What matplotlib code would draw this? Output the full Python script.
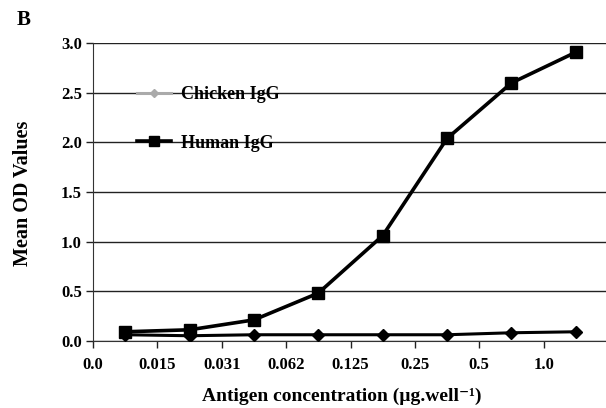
import matplotlib.pyplot as plt
import numpy as np
from matplotlib.lines import Line2D

# Данные
conc_labels = ['0.0', '0.015', '0.031', '0.062', '0.125', '0.25', '0.5', '1.0']
human_igg = [0.09, 0.11, 0.21, 0.48, 1.06, 2.04, 2.60, 2.91]
chicken_igg = [0.06, 0.05, 0.06, 0.06, 0.06, 0.06, 0.08, 0.09]

plt.rcParams['font.family'] = ['Liberation Serif', 'DejaVu Serif']
plt.rcParams['font.weight'] = 'bold'

fig = plt.figure(figsize=(6.06, 4.08), dpi=100)
W, H = 606, 408
ax = fig.add_axes([93 / W, (H - 340.7) / H, 515 / W, (340.7 - 43.3) / H])

x = np.arange(len(human_igg)) + 0.5

# Линии
ax.plot(x, chicken_igg, color='black', linewidth=2.2, marker='D', markersize=6.5, zorder=3)
ax.plot(x, human_igg, color='black', linewidth=2.6, marker='s', markersize=8, zorder=4)

# Оси
ax.set_xlim(0, 8)
ax.set_ylim(0, 3.0)
ax.set_xticks(np.arange(9))
ax.set_xticklabels(conc_labels + [''])
ax.set_yticks(np.arange(0, 3.01, 0.5))
ax.set_yticklabels(['%.1f' % v for v in np.arange(0, 3.01, 0.5)])
ax.tick_params(axis='both', direction='out', length=5, width=1, labelsize=12, colors='#222222')
ax.tick_params(axis='x', pad=7)
ax.tick_params(axis='y', pad=3)
for lbl in ax.get_xticklabels() + ax.get_yticklabels():
    lbl.set_fontweight('bold')
    lbl.set_color('black')

ax.grid(axis='y', color='#222222', linewidth=1.0)
ax.set_axisbelow(True)
for s in ['top', 'right']:
    ax.spines[s].set_visible(False)
ax.spines['left'].set_color('#333333')
ax.spines['bottom'].set_color('#333333')

# Подписи осей
fig.text(23 / W, 1 - 193 / H, 'Mean OD Values', rotation=90, ha='center', va='center',
         fontsize=14.5, fontweight='bold')
fig.text(342 / W, 1 - 396 / H, 'Antigen concentration (\u00b5g.well\u207b\u00b9)',
         ha='center', va='center', fontsize=14, fontweight='bold')
fig.text(24 / W, 1 - 20 / H, 'B', ha='center', va='center', fontsize=15, fontweight='bold')

# Легенда
handles = [
    Line2D([], [], color='#aaaaaa', linewidth=2.2, marker='D', markersize=4.5),
    Line2D([], [], color='black', linewidth=2.6, marker='s', markersize=7.5),
]
leg = ax.legend(handles, ['Chicken IgG', 'Human IgG'], loc='upper left',
                bbox_to_anchor=(137 / W, 1 - 86 / H), bbox_transform=fig.transFigure,
                frameon=False, borderpad=0, borderaxespad=0, handlelength=1.9,
                handletextpad=0.55, labelspacing=1.75, prop={'size': 13, 'weight': 'bold'})

fig.savefig('out.png', dpi=100)
